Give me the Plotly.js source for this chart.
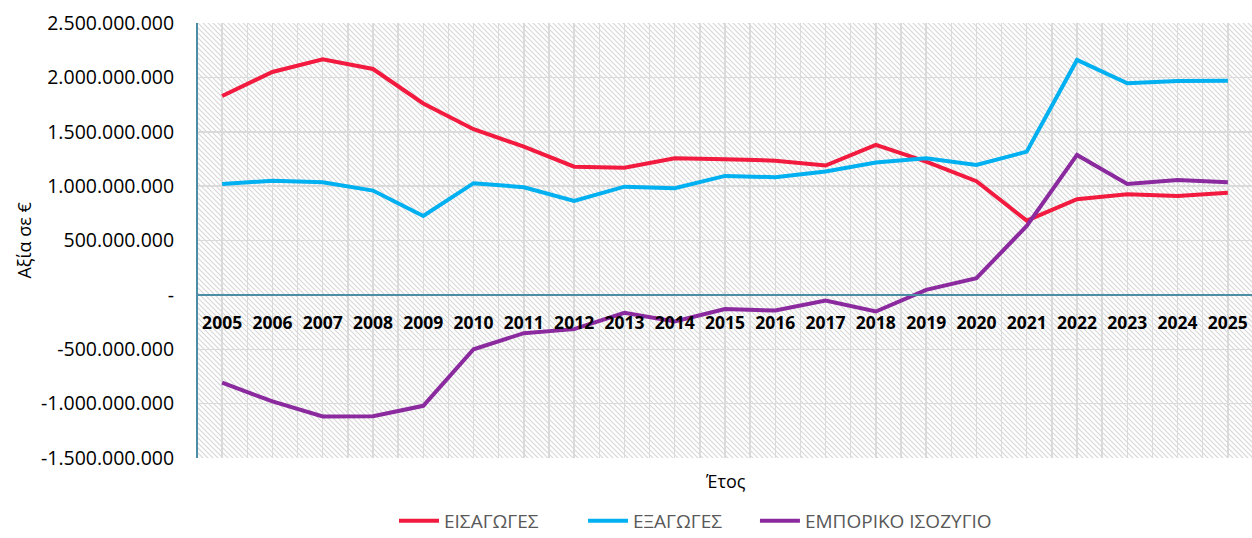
<!DOCTYPE html>
<html>
<head>
<meta charset="utf-8">
<script src="https://cdn.plot.ly/plotly-3.0.1.min.js"></script>
<style>
  html, body { margin: 0; padding: 0; background: #ffffff; }
  #chart { width: 1252px; height: 538px; }
</style>
</head>
<body>
<div id="chart"></div>
<script>
// ---- Data ----
const years = ['2005','2006','2007','2008','2009','2010','2011','2012','2013','2014','2015',
               '2016','2017','2018','2019','2020','2021','2022','2023','2024','2025'];

const imports = [1.829e9, 2.05e9, 2.166e9, 2.077e9, 1.76e9, 1.523e9, 1.363e9, 1.179e9, 1.17e9, 1.256e9, 1.247e9,
                 1.234e9, 1.189e9, 1.379e9, 1.225e9, 1.045e9, 0.683e9, 0.88e9, 0.925e9, 0.91e9, 0.94e9];

const exports_ = [1.02e9, 1.05e9, 1.035e9, 0.959e9, 0.726e9, 1.027e9, 0.99e9, 0.864e9, 0.995e9, 0.98e9, 1.094e9,
                  1.082e9, 1.134e9, 1.218e9, 1.256e9, 1.195e9, 1.317e9, 2.16e9, 1.946e9, 1.967e9, 1.97e9];

const balance = [-0.806e9, -0.98e9, -1.118e9, -1.115e9, -1.02e9, -0.5e9, -0.352e9, -0.315e9, -0.165e9, -0.245e9, -0.131e9,
                 -0.144e9, -0.052e9, -0.153e9, 0.046e9, 0.153e9, 0.634e9, 1.287e9, 1.02e9, 1.057e9, 1.036e9];

const seriesNames = ['ΕΙΣΑΓΩΓΕΣ', 'ΕΞΑΓΩΓΕΣ', 'ΕΜΠΟΡΙΚΟ ΙΣΟΖΥΓΙΟ'];
const seriesColors = ['#F21B3F', '#00B0F0', '#8B2A9E'];

const yTickVals = [-1.5e9, -1e9, -0.5e9, 0, 0.5e9, 1e9, 1.5e9, 2e9, 2.5e9];
const yTickText = ['-1.500.000.000', '-1.000.000.000', '-500.000.000', '-', '500.000.000',
                   '1.000.000.000', '1.500.000.000', '2.000.000.000', '2.500.000.000'];

const yTitle = 'Αξία σε €';
const xTitle = 'Έτος';

// ---- Build ----
const xNum = years.map(Number);
const yRange = [-1.5e9, 2.5e9];
const xRange = [xNum[0] - 0.48, xNum[xNum.length - 1] + 0.48];
const zeroPos = (0 - yRange[0]) / (yRange[1] - yRange[0]);

const FONT = 'Open Sans, Noto Sans, sans-serif';
const TEAL = '#4A8DA5';
const GRID = '#DADADA';

// hatch background image (diagonal "\" lines)
const W = 1054, H = 435;
const svg = `<svg xmlns="http://www.w3.org/2000/svg" width="${W}" height="${H}" preserveAspectRatio="none" viewBox="0 0 ${W} ${H}">` +
  `<defs><pattern id="p" width="5" height="5" patternUnits="userSpaceOnUse">` +
  `<path d="M-1,-1 L6,6 M-1,4 L1,6 M4,-1 L6,1" stroke="#D8D8D8" stroke-width="1.2"/>` +
  `</pattern></defs><rect width="100%" height="100%" fill="#ffffff"/><rect width="100%" height="100%" fill="url(#p)"/></svg>`;
const bgSrc = 'data:image/svg+xml;charset=utf-8,' + encodeURIComponent(svg);

const legendIds = ['legend', 'legend2', 'legend3'];
const ys = [imports, exports_, balance];
const traces = ys.map((y, i) => ({
  type: 'scatter',
  mode: 'lines',
  x: xNum,
  y: y,
  name: seriesNames[i],
  legend: legendIds[i],
  line: { color: seriesColors[i], width: 4 },
  hoverinfo: 'x+y+name'
}));

function legendAt(xFrac) {
  return {
    orientation: 'h',
    xref: 'container', yref: 'container',
    x: xFrac, xanchor: 'left',
    y: 0.032, yanchor: 'middle',
    font: { family: FONT, size: 19, color: '#595959' },
    bgcolor: 'rgba(0,0,0,0)',
    itemwidth: 40
  };
}

const layout = {
  width: 1252,
  height: 538,
  margin: { l: 198, r: 0, t: 23, b: 80, autoexpand: false },
  paper_bgcolor: '#ffffff',
  plot_bgcolor: 'rgba(0,0,0,0)',
  font: { family: FONT, color: '#000000' },
  showlegend: true,
  legend: legendAt(0.3147),
  legend2: legendAt(0.4657),
  legend3: legendAt(0.603),
  xaxis: {
    type: 'linear',
    range: xRange,
    anchor: 'free',
    position: zeroPos,
    tickmode: 'array',
    tickvals: xNum,
    ticktext: years,
    ticks: '',
    ticklabelstandoff: 12,
    tickfont: { family: FONT, size: 17.5, color: '#000000', weight: 'bold' },
    showline: true,
    linecolor: TEAL,
    linewidth: 2,
    showgrid: true,
    gridcolor: GRID,
    gridwidth: 1.5,
    minor: { tickmode: 'linear', tick0: xRange[0] + 0.98 - 0.5, dtick: 0.5, showgrid: true, gridcolor: GRID, gridwidth: 1.5, ticks: '' },
    zeroline: false,
    automargin: false,
    fixedrange: true
  },
  yaxis: {
    range: yRange,
    tickmode: 'array',
    tickvals: yTickVals,
    ticktext: yTickText,
    ticks: '',
    ticklabelstandoff: 18,
    tickfont: { family: FONT, size: 19.5, color: '#000000' },
    showline: true,
    linecolor: TEAL,
    linewidth: 2,
    showgrid: true,
    gridcolor: GRID,
    gridwidth: 1.5,
    zeroline: false,
    automargin: false,
    fixedrange: true
  },
  images: [{
    source: bgSrc,
    xref: 'paper', yref: 'paper',
    x: 0, y: 1, sizex: 1, sizey: 1,
    xanchor: 'left', yanchor: 'top',
    sizing: 'stretch',
    layer: 'below'
  }],
  annotations: [{
    text: xTitle,
    xref: 'paper', yref: 'paper',
    x: 0.5, y: -0.021,
    xanchor: 'center', yanchor: 'top',
    showarrow: false,
    font: { family: FONT, size: 18, color: '#000000' }
  }, {
    text: yTitle,
    xref: 'paper', yref: 'paper',
    x: -0.166, y: 0.5,
    xanchor: 'center', yanchor: 'middle',
    textangle: -90,
    showarrow: false,
    font: { family: FONT, size: 18, color: '#000000' }
  }]
};

Plotly.newPlot('chart', traces, layout, { displayModeBar: false, staticPlot: true });
</script>
</body>
</html>
